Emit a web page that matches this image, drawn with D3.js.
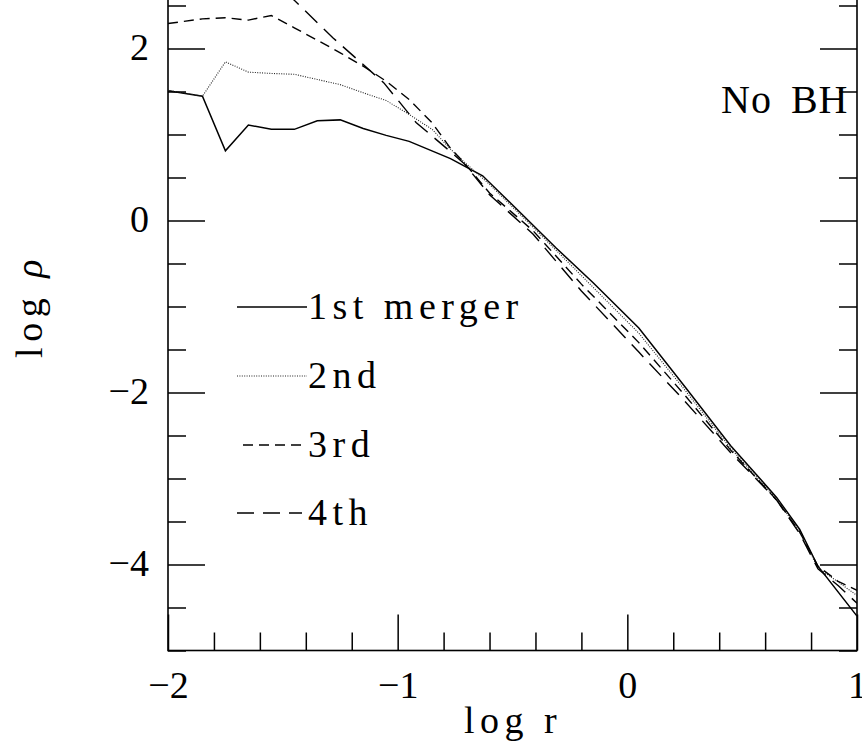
<!DOCTYPE html>
<html>
<head>
<meta charset="utf-8">
<script src="https://cdn.jsdelivr.net/npm/d3@7"></script>
<style>
  body { margin: 0; background: #fff; }
  text { font-family: "Liberation Serif", "Times New Roman", serif; fill: #000; }
</style>
</head>
<body>
<div id="chart"></div>
<script>
// density profiles after each merger, log r vs log rho (no black hole)
var logR1 = [-2.0, -1.85, -1.75, -1.65, -1.55, -1.45, -1.35, -1.25, -1.15, -1.05, -0.95, -0.77, -0.63, -0.45, -0.31, -0.15, 0.05, 0.25, 0.45, 0.65, 0.75, 0.83, 1.0];
var logRho1 = [1.51, 1.445, 0.81, 1.11, 1.06, 1.06, 1.16, 1.17, 1.07, 0.99, 0.92, 0.72, 0.52, 0.05, -0.32, -0.72, -1.25, -1.93, -2.62, -3.22, -3.59, -4.02, -4.6];

var logR2 = [-2.0, -1.85, -1.75, -1.65, -1.55, -1.45, -1.35, -1.25, -1.15, -1.05, -0.95, -0.85, -0.77, -0.71, -0.6, -0.41, -0.2, 0.05, 0.25, 0.45, 0.65, 0.75, 0.83, 0.9, 1.0];
var logRho2 = [1.515, 1.445, 1.845, 1.725, 1.71, 1.70, 1.64, 1.58, 1.485, 1.395, 1.233, 1.06, 0.83, 0.68, 0.42, -0.08, -0.64, -1.31, -1.97, -2.65, -3.24, -3.62, -4.04, -4.17, -4.36];

var logR3 = [-2.0, -1.85, -1.75, -1.65, -1.55, -1.45, -1.35, -1.25, -1.15, -1.05, -0.95, -0.85, -0.77, -0.71, -0.6, -0.41, -0.2, 0.05, 0.25, 0.45, 0.65, 0.75, 0.83, 0.92, 1.0];
var logRho3 = [2.29, 2.345, 2.357, 2.33, 2.384, 2.24, 2.097, 1.95, 1.794, 1.62, 1.407, 1.136, 0.84, 0.67, 0.32, -0.12, -0.74, -1.42, -2.03, -2.67, -3.25, -3.62, -4.02, -4.2, -4.3];

var logR4 = [-1.65, -1.45, -1.28, -1.06, -0.92, -0.77, -0.71, -0.6, -0.41, -0.2, 0.05, 0.25, 0.45, 0.65, 0.75, 0.83, 0.92, 1.0];
var logRho4 = [3.06, 2.56, 2.12, 1.6, 1.14, 0.80, 0.66, 0.30, -0.16, -0.82, -1.53, -2.10, -2.70, -3.25, -3.64, -4.05, -4.25, -4.45];

var seriesNames = ['1st merger', '2nd', '3rd', '4th'];
var xMajorTicks = [-2, -1, 0, 1];
var yMajorTicks = [-4, -2, 0, 2];

var width = 862, height = 744;
var plotLeft = 168, plotRight = 857, plotTop = -37.5, plotBottom = 650.5;

var svg = d3.select('#chart').append('svg')
    .attr('width', width)
    .attr('height', height)
    .style('display', 'block');

svg.append('rect').attr('width', width).attr('height', height).attr('fill', '#fff');

var x = d3.scaleLinear().domain([-2, 1]).range([plotLeft, plotRight]);
var y = d3.scaleLinear().domain([-5, 3]).range([plotBottom, plotTop]);

// minor tick values
var xMinor = d3.range(-2, 1.001, 0.2).filter(function(v) {
    return Math.abs(v - Math.round(v)) > 1e-6;
});
var yMinor = d3.range(-5, 3.001, 0.5).filter(function(v) {
    return Math.abs(v / 2 - Math.round(v / 2)) > 1e-6;
});

var fmt = d3.format('d');

function styleAxis(g) {
    g.select('.domain').remove();
    g.selectAll('line').attr('stroke', '#000').attr('stroke-width', 1.5);
}

// bottom axis
svg.append('g').attr('transform', 'translate(0,' + plotBottom + ')')
    .call(d3.axisBottom(x).tickValues(xMinor).tickSize(-18).tickFormat(''))
    .call(styleAxis);
svg.append('g').attr('transform', 'translate(0,' + plotBottom + ')')
    .call(d3.axisBottom(x).tickValues(xMajorTicks).tickSize(-36).tickPadding(21).tickFormat(fmt))
    .call(styleAxis)
    .call(function(g) {
        g.selectAll('text')
            .attr('font-size', 38)
            .attr('font-family', '"Liberation Serif", serif')
            .attr('fill', '#000')
            .attr('dy', '0.71em');
    });

// top axis
svg.append('g').attr('transform', 'translate(0,' + plotTop + ')')
    .call(d3.axisTop(x).tickValues(xMinor).tickSize(-18).tickFormat(''))
    .call(styleAxis);
svg.append('g').attr('transform', 'translate(0,' + plotTop + ')')
    .call(d3.axisTop(x).tickValues(xMajorTicks).tickSize(-37).tickFormat(''))
    .call(styleAxis);

// left axis
svg.append('g').attr('transform', 'translate(' + plotLeft + ',0)')
    .call(d3.axisLeft(y).tickValues(yMinor).tickSize(-18).tickFormat(''))
    .call(styleAxis);
svg.append('g').attr('transform', 'translate(' + plotLeft + ',0)')
    .call(d3.axisLeft(y).tickValues(yMajorTicks).tickSize(-37).tickPadding(19).tickFormat(fmt))
    .call(styleAxis)
    .call(function(g) {
        g.selectAll('text')
            .attr('font-size', 38)
            .attr('font-family', '"Liberation Serif", serif')
            .attr('fill', '#000')
            .attr('dy', '0.28em');
    });

// right axis
svg.append('g').attr('transform', 'translate(' + plotRight + ',0)')
    .call(d3.axisRight(y).tickValues(yMinor).tickSize(-18).tickFormat(''))
    .call(styleAxis);
svg.append('g').attr('transform', 'translate(' + plotRight + ',0)')
    .call(d3.axisRight(y).tickValues(yMajorTicks).tickSize(-37).tickFormat(''))
    .call(styleAxis);

// frame
svg.append('rect')
    .attr('x', plotLeft).attr('y', plotTop)
    .attr('width', plotRight - plotLeft).attr('height', plotBottom - plotTop)
    .attr('fill', 'none').attr('stroke', '#000').attr('stroke-width', 1.6);

// clip
svg.append('clipPath').attr('id', 'plot-clip')
    .append('rect')
    .attr('x', plotLeft).attr('y', plotTop)
    .attr('width', plotRight - plotLeft).attr('height', plotBottom - plotTop);

var styles = [
    { width: 1.5, dash: null, color: '#000' },
    { width: 1.1, dash: '1,1.4', color: '#222' },
    { width: 1.4, dash: '10,6', color: '#000' },
    { width: 1.4, dash: '17,9', color: '#000' }
];

var allSeries = [
    d3.zip(logR1, logRho1),
    d3.zip(logR2, logRho2),
    d3.zip(logR3, logRho3),
    d3.zip(logR4, logRho4)
];

var line = d3.line()
    .x(function(d) { return x(d[0]); })
    .y(function(d) { return y(d[1]); });

svg.append('g').attr('clip-path', 'url(#plot-clip)')
    .selectAll('path')
    .data(allSeries)
    .enter()
    .append('path')
    .attr('d', line)
    .attr('fill', 'none')
    .attr('stroke', function(d, i) { return styles[i].color; })
    .attr('stroke-width', function(d, i) { return styles[i].width; })
    .attr('stroke-dasharray', function(d, i) { return styles[i].dash; });

// legend
var legendY = [307, 376, 445, 513];
var legendX0 = [237, 237, 243, 237];
var legendX1 = [307, 307, 307, 302];
var legend = svg.append('g');
seriesNames.forEach(function(name, i) {
    legend.append('line')
        .attr('x1', legendX0[i]).attr('x2', legendX1[i])
        .attr('y1', legendY[i]).attr('y2', legendY[i])
        .attr('stroke', styles[i].color)
        .attr('stroke-width', styles[i].width)
        .attr('stroke-dasharray', styles[i].dash);
    legend.append('text')
        .attr('x', 308)
        .attr('y', legendY[i] + 11.5)
        .attr('font-size', 38)
        .attr('letter-spacing', 5.5)
        .text(name);
});

// annotation
svg.append('text')
    .attr('x', 721).attr('y', 113)
    .attr('font-size', 40)
    .attr('letter-spacing', 1)
    .attr('word-spacing', 8)
    .text('No BH');

// axis titles
svg.append('text')
    .attr('x', 513).attr('y', 733)
    .attr('text-anchor', 'middle')
    .attr('font-size', 38)
    .attr('letter-spacing', 5.5)
    .text('log r');

var yTitle = svg.append('text')
    .attr('transform', 'translate(42,306) rotate(-90)')
    .attr('text-anchor', 'middle')
    .attr('font-size', 38)
    .attr('letter-spacing', 5.5);
yTitle.append('tspan').text('log ');
yTitle.append('tspan').attr('font-style', 'italic').text('ρ');
</script>
</body>
</html>
